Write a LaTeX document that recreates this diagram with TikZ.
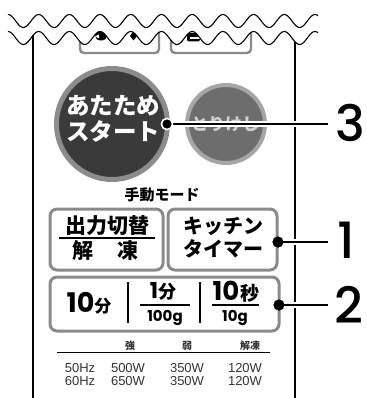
\documentclass[tikz,border=0pt]{standalone}
\usepackage{fontspec}
\setmainfont{Liberation Sans}
\newfontfamily\jp{Noto Sans CJK JP}
\newfontfamily\jpblack{Noto Sans CJK JP Black}
\newfontfamily\pop{Poppins}
\newfontfamily\popmed{Poppins Medium}
\definecolor{bigfill}{HTML}{3A3A3A}
\definecolor{bigring}{HTML}{8C8C8C}
\definecolor{smallfill}{HTML}{6D6D6D}
\definecolor{smallring}{HTML}{A6A6A6}
\definecolor{btngray}{HTML}{8A8A8A}
\definecolor{tabletext}{HTML}{333333}
\definecolor{canceltext}{HTML}{CFCFCF}
\newcommand{\fs}[1]{\fontsize{#1}{#1}\selectfont}
\begin{document}
\begin{tikzpicture}[x=1pt,y=-1pt,
  declare function={wy(\t)=38-6.5*cos(11.726*(\t-8));
                    wt(\t)=21-6.5*cos(11.726*(\t-8));},
  every node/.style={inner sep=0pt, outer sep=0pt},
  wave/.style={line width=1.1pt, black},
  panel/.style={line width=1.2pt, black},
  tray/.style={line width=2.4pt, draw=btngray, rounded corners=4pt},
  btnbox/.style={draw=btngray, line width=3pt, rounded corners=7pt, rectangle},
  leader/.style={line width=2pt, black, preaction={draw=white, line width=6pt}},
  leaddot/.style={circle, fill=black, draw=white, line width=1.5pt, minimum size=11pt},
  numlabel/.style={font=\popmed\fs{50}, anchor=base},
  sepline/.style={line width=2.2pt, black},
  fracline/.style={line width=2pt, black},
  tabtxt/.style={font=\fs{13}, text=tabletext, anchor=base},
  tabhead/.style={font=\jp\bfseries\fs{10}, text=tabletext}
]
\useasboundingbox (0,0) rectangle (366,398);

% panel side lines
\draw[panel] (33,{wy(33)}) -- (33,398);
\draw[panel] (295,{wy(295)}) -- (295,398);

% trays at the top
\draw[tray] (80,{wy(80)}) -- (80,53) -- (159,53) -- (159,{wy(159)});
\draw[tray] (171,{wy(171)}) -- (171,53) -- (251,53) -- (251,{wy(251)});

% truncated icons under the cut
\begin{scope}
  \clip plot[domain=8:318, samples=200] (\x,{wy(\x)}) -- (318,70) -- (8,70) -- cycle;
  \fill (101,36) ellipse (6 and 4.5);
  \fill[white] (95,36.5) -- (99,34.5) -- (99,38.5) -- cycle;
  \fill (133.5,31) -- (137,36) -- (133.5,40.5) -- (130,36) -- cycle;
  \fill[rounded corners=2pt] (187,33) rectangle (200,41.5);
  \fill[white] (190,37) rectangle (200,38.6);
\end{scope}

% cut waves
\draw[wave] plot[domain=8:318, samples=260, smooth] (\x, {wt(\x)});
\draw[wave] plot[domain=8:318, samples=260, smooth] (\x, {wy(\x)});

% round buttons
\node[circle, fill=bigfill, draw=bigring, line width=5pt, minimum size=111pt] (start) at (112,124) {};
\node[font=\jpblack\fs{23.5}, text=white] (startA) at (113,106) {あたため};
\node[font=\jpblack\fs{23.5}, text=white] (startB) at (113,131) {スタート};

\node[circle, fill=smallfill, draw=smallring, line width=4pt, minimum size=78pt] (cancel) at (226,124) {};
\node[font=\jp\bfseries\fs{17}, text=canceltext] (cancelt) at (225,124) {とりけし};

% leader 3
\node[leaddot] (d3) at (167,124) {};
\coordinate (e3) at (328,124);
\draw[leader] (d3.center) -- (e3);
\node[leaddot] at (d3) {};
\node[numlabel] (n3) at (350,142) {3};

% manual mode label
\node[font=\jp\bfseries\fs{15}] (mode) at (162,195) {手動モード};

% box 1 and 2
\node[btnbox, minimum width=113pt, minimum height=61pt] (b1) at (106.5,239.5) {};
\node[font=\jp\bfseries\fs{21}] (b1a) at (107,226) {出力切替};
\draw[line width=1.3pt] (59,238) -- (155,238);
\node[font=\jp\bfseries\fs{21}] (b1b) at (105.5,251) {解\hspace{24pt}凍};

\node[btnbox, minimum width=109pt, minimum height=61pt] (b2) at (222.5,239.5) {};
\node[font=\jp\bfseries\fs{20}] (b2a) at (223,226) {キッチン};
\node[font=\jp\bfseries\fs{20}] (b2b) at (223,249) {タイマー};

\coordinate (e1) at (328,242);
\node[leaddot, draw=none] (d1) at (278,242) {};
\draw[leader] (d1.center) -- (e1);
\node[leaddot, draw=none] at (d1) {};
\node[numlabel] (n1) at (346,258) {1};

% wide box
\node[btnbox, minimum width=229pt, minimum height=54pt] (b3) at (164.5,304) {};
\node[anchor=base] (ten) at (89,312) {\pop\bfseries\fs{27}10\jp\bfseries\fs{17}分};
\draw[sepline] (128,282) -- (128,323);
\node[anchor=base] (one) at (163,298) {\pop\bfseries\fs{22}1\jp\bfseries\fs{18}分};
\draw[fracline] (140,305) -- (190,305);
\node[anchor=base, font=\pop\bfseries\fs{15}] (hg) at (165,321) {100g};
\draw[sepline] (200,282) -- (200,323);
\node[anchor=base] (tens) at (236,300) {\pop\bfseries\fs{26}10\hspace{1pt}\jp\bfseries\fs{19}秒};
\draw[fracline] (212,305) -- (259,305);
\node[anchor=base, font=\pop\bfseries\fs{15}] (tg) at (235,321) {10g};

\coordinate (e2) at (328,305);
\node[leaddot, draw=none] (d2) at (279,305) {};
\draw[leader] (d2.center) -- (e2);
\node[leaddot, draw=none] at (d2) {};
\node[numlabel] (n2) at (349,323) {2};

% table
\node[tabhead] (h1) at (130,346) {強};
\node[tabhead] (h2) at (187,346) {弱};
\node[tabhead] (h3) at (250,346) {解凍};
\draw[line width=0.8pt] (57,352) -- (270,352);
\node[tabtxt] (r1a) at (80,372) {50Hz};
\node[tabtxt] (r1b) at (128,372) {500W};
\node[tabtxt] (r1c) at (187,372) {350W};
\node[tabtxt] (r1d) at (245,372) {120W};
\node[tabtxt] (r2a) at (80,385) {60Hz};
\node[tabtxt] (r2b) at (128,385) {650W};
\node[tabtxt] (r2c) at (187,385) {350W};
\node[tabtxt] (r2d) at (245,385) {120W};
\end{tikzpicture}
\end{document}
